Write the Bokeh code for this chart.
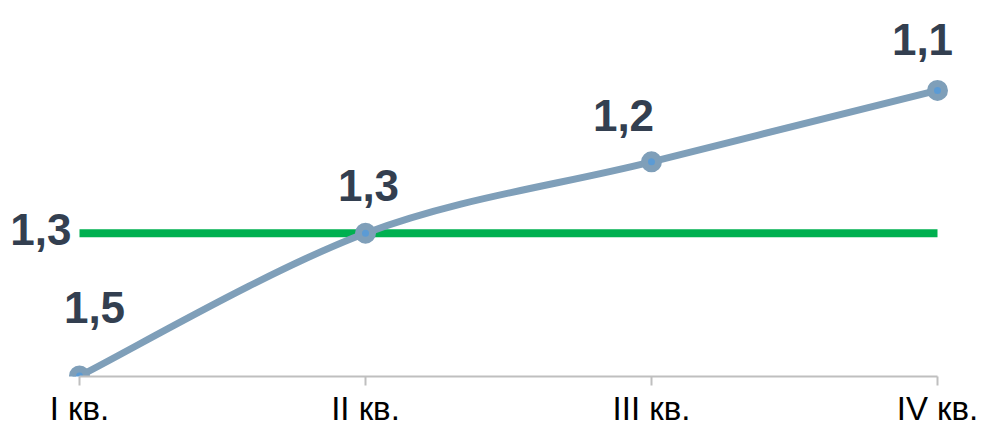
import numpy as np
from bokeh.plotting import figure
from bokeh.models import Range1d, FixedTicker, ColumnDataSource
from bokeh.embed import file_html
from bokeh.resources import INLINE
from bokeh.core.properties import value

# ---- data ----
quarters = ["I кв.", "II кв.", "III кв.", "IV кв."]
values = [1.5, 1.3, 1.2, 1.1]
value_labels = ["1,5", "1,3", "1,2", "1,1"]
target = 1.3
target_label = "1,3"

# ---- label placement (styles, screen px) ----
label_dx = [15, 3, -28, -15]
label_dy = [-69, -48, -46, -51]

FONT = "Liberation Sans"
LINE_C = "#7f9fb9"
DOT_C = "#5b9bd5"
GREEN = "#00b050"
TXT_C = "#333f50"
AXIS_C = "#bfbfbf"

W, H = 981, 421
FH = 376          # frame height (axis line position)
X0, DX = 79, 286  # first category pixel, pixels per category
Y15, KY = 375.5, 714  # pixel of 1.5, pixels per unit

xi = list(range(len(quarters)))

p = figure(width=W, height=H, frame_width=W, frame_height=FH, min_border=0,
           output_backend="svg", toolbar_location=None,
           y_axis_location=None,
           x_range=Range1d(-X0 / DX, (W - X0) / DX),
           y_range=Range1d(1.5 + (FH - Y15) / KY, 1.5 - Y15 / KY))
p.outline_line_color = None
p.grid.visible = False
p.background_fill_color = "white"
p.border_fill_color = "white"

ax = p.xaxis[0]
ax.ticker = FixedTicker(ticks=xi)
ax.major_label_overrides = {i: q for i, q in zip(xi, quarters)}
ax.bounds = (xi[0], xi[-1])
ax.axis_line_color = AXIS_C
ax.axis_line_width = 2
ax.major_tick_line_color = AXIS_C
ax.major_tick_line_width = 2
ax.major_tick_out = 9
ax.major_tick_in = 0
ax.minor_tick_line_color = None
ax.major_label_standoff = 4
ax.major_label_text_font = FONT
ax.major_label_text_font_size = "33px"
ax.major_label_text_color = "#000000"

# target line
p.line(x=[xi[0], xi[-1]], y=[target, target], line_color=GREEN, line_width=8)
p.text(x=[xi[0]], y=[target], text=[target_label], x_offset=-8, y_offset=-4,
       text_align="right", text_baseline="alphabetic",
       text_font=value(FONT), text_font_style="bold",
       text_font_size="44px", text_color=TXT_C)

# smooth curve (Catmull-Rom -> cubic Bezier)
P = np.array([xi, values], dtype=float).T
ext = np.vstack([P[0], P, P[-1]])
x0, y0, x1, y1, cx0, cy0, cx1, cy1 = [], [], [], [], [], [], [], []
for i in range(len(P) - 1):
    pm, pa, pb, pn = ext[i], ext[i + 1], ext[i + 2], ext[i + 3]
    c1 = pa + (pb - pm) / 6.0
    c2 = pb - (pn - pa) / 6.0
    x0.append(pa[0]); y0.append(pa[1]); x1.append(pb[0]); y1.append(pb[1])
    cx0.append(c1[0]); cy0.append(c1[1]); cx1.append(c2[0]); cy1.append(c2[1])
p.bezier(x0=x0, y0=y0, x1=x1, y1=y1, cx0=cx0, cy0=cy0, cx1=cx1, cy1=cy1,
         line_color=LINE_C, line_width=7)

src = ColumnDataSource(dict(x=xi, y=values, lab=value_labels, dx=label_dx, dy=label_dy))
p.scatter("x", "y", source=src, size=14, fill_color=DOT_C, line_color=LINE_C, line_width=7)
p.text("x", "y", text="lab", source=src, x_offset="dx", y_offset="dy",
       text_align="center", text_baseline="alphabetic",
       text_font=value(FONT), text_font_style="bold",
       text_font_size="44px", text_color=TXT_C)

open("out.html", "w").write(file_html(p, INLINE))
